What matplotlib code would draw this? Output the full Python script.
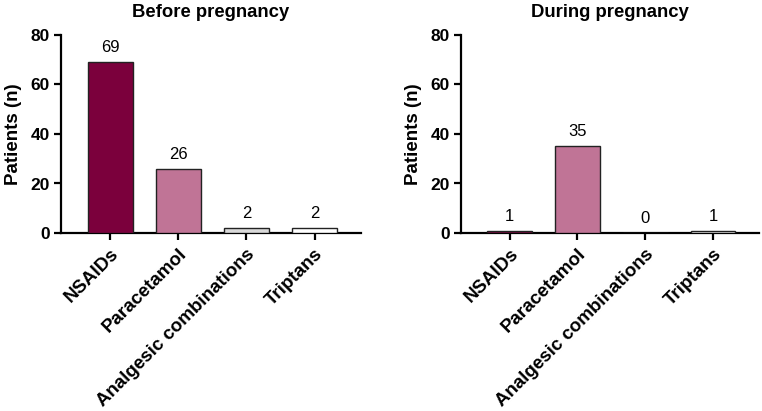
import matplotlib
matplotlib.use("Agg")
import matplotlib.pyplot as plt

categories = ["NSAIDs", "Paracetamol", "Analgesic combinations", "Triptans"]
before_values = [69, 26, 2, 2]
during_values = [1, 35, 0, 1]
bar_colors = ["#7B003C", "#C07496", "#D9D9D9", "#FFFFFF"]
titles = ["Before pregnancy", "During pregnancy"]
y_ticks = [0, 20, 40, 60, 80]

plt.rcParams['font.family'] = ['Liberation Sans', 'DejaVu Sans']

fig = plt.figure(figsize=(7.62, 4.11), dpi=100)
ax1 = fig.add_axes([61/762, 1-233/411, 300/762, 198/411])
ax2 = fig.add_axes([461/762, 1-233/411, 298/762, 198/411])

for ax, vals, title in [(ax1, before_values, titles[0]), (ax2, during_values, titles[1])]:
    x = list(range(len(categories)))
    ax.bar(x, vals, width=0.66, color=bar_colors, edgecolor="#222222", linewidth=1.0, zorder=3)
    for xi, v in zip(x, vals):
        ax.annotate(str(v), (xi, v), xytext=(0, 5), textcoords="offset points",
                    ha="center", va="bottom", fontsize=12)
    ax.set_ylim(0, 80)
    ax.set_xlim(-0.72, 3.68)
    ax.set_yticks(y_ticks)
    ax.set_xticks(x)
    ax.set_xticklabels(categories, rotation=45, ha="right", rotation_mode="anchor",
                       fontsize=13.5, fontweight="bold")
    for lab in ax.get_yticklabels():
        lab.set_fontweight("bold")
        lab.set_fontsize(12.5)
    ax.spines["top"].set_visible(False)
    ax.spines["right"].set_visible(False)
    ax.spines["left"].set_linewidth(1.6)
    ax.spines["bottom"].set_linewidth(1.6)
    ax.tick_params(axis="both", width=1.6, length=5, direction="out", color="black")
    ax.tick_params(axis="x", pad=4)
    ax.tick_params(axis="y", pad=3)
    ax.set_ylabel("Patients (n)", fontsize=13.5, fontweight="bold", labelpad=6)
    ax.set_title(title, fontsize=13.3, fontweight="bold", pad=13)

fig.savefig("out.png", dpi=100)
